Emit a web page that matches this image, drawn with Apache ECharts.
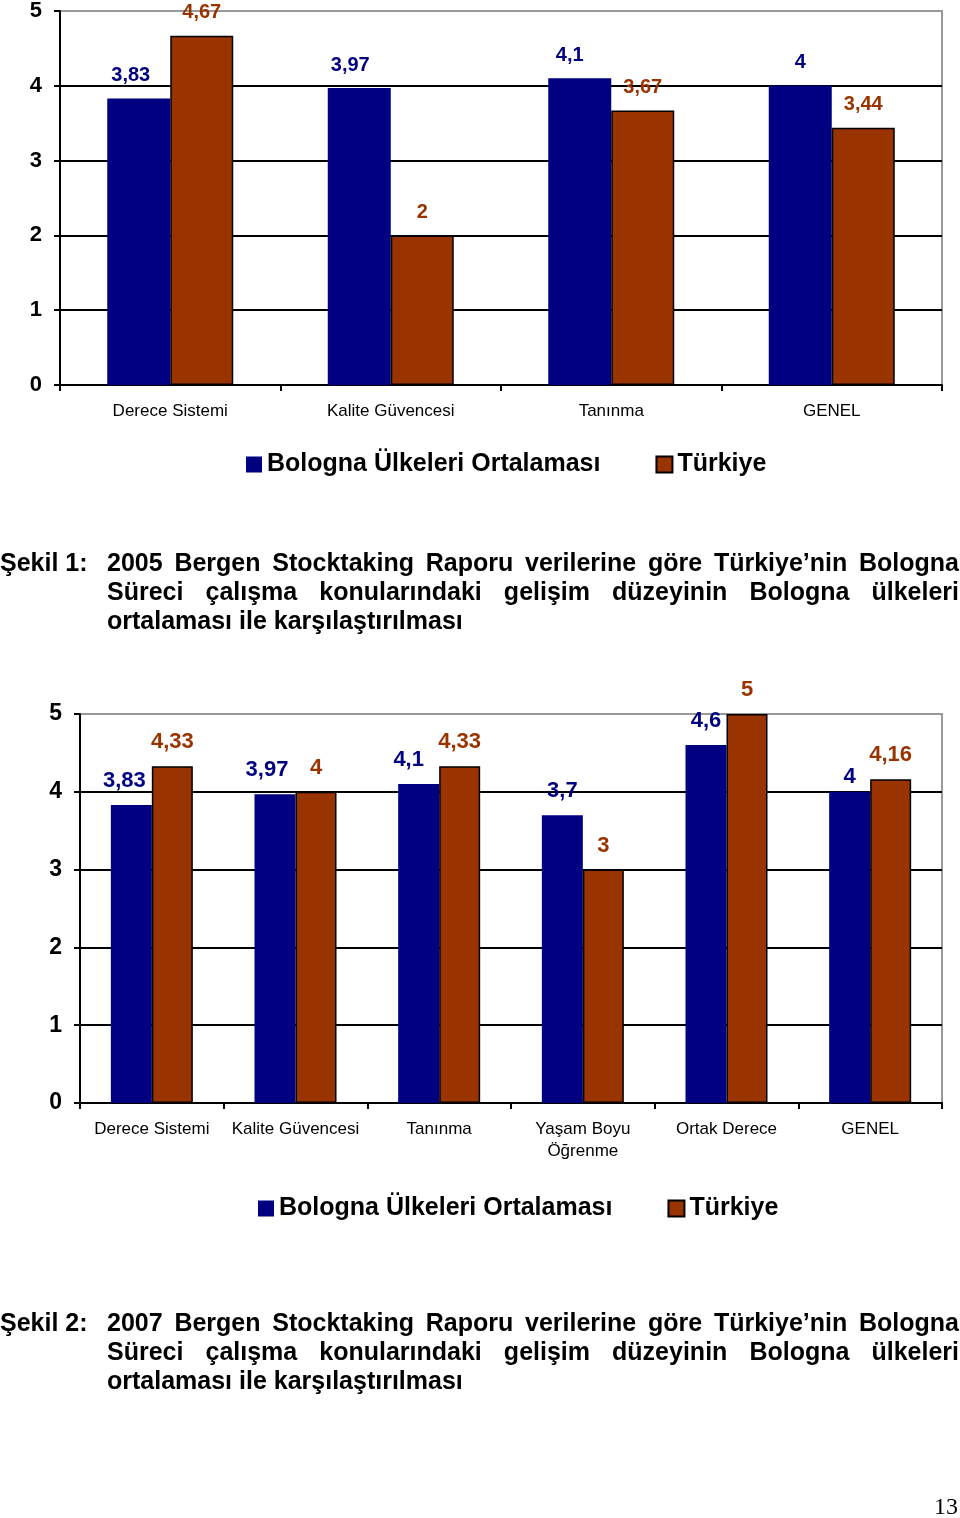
<!DOCTYPE html>
<html>
<head>
<meta charset="utf-8">
<script src="https://cdn.jsdelivr.net/npm/echarts@6/dist/echarts.min.js"></script>
<style>
html,body{margin:0;padding:0;background:#fff;}
#c{width:960px;height:1518px;}
</style>
</head>
<body>
<div id="c"></div>
<script>
// ---- data ----
const categories1 = ['Derece Sistemi', 'Kalite Güvencesi', 'Tanınma', 'GENEL'];
const bologna1 = [3.83, 3.97, 4.1, 4];
const turkiye1 = [4.67, 2, 3.67, 3.44];

const categories2 = ['Derece Sistemi', 'Kalite Güvencesi', 'Tanınma', 'Yaşam Boyu\nÖğrenme', 'Ortak Derece', 'GENEL'];
const bologna2 = [3.83, 3.97, 4.1, 3.7, 4.6, 4];
const turkiye2 = [4.33, 4, 4.33, 3, 5, 4.16];

const seriesNames = ['Bologna Ülkeleri Ortalaması', 'Türkiye'];
const yMin = 0, yMax = 5, yStep = 1;

const caption1 = ['Şekil 1:', '2005 Bergen Stocktaking Raporu verilerine göre Türkiye’nin Bologna',
  'Süreci çalışma konularındaki gelişim düzeyinin Bologna ülkeleri',
  'ortalaması ile karşılaştırılması'];
const caption2 = ['Şekil 2:', '2007 Bergen Stocktaking Raporu verilerine göre Türkiye’nin Bologna',
  'Süreci çalışma konularındaki gelişim düzeyinin Bologna ülkeleri',
  'ortalaması ile karşılaştırılması'];
const pageNumber = '13';

// ---- style ----
const BLUE = '#000080', BROWN = '#993300';
const FONT = 'Liberation Sans, Arial, sans-serif';
// label nudges (style only)
const nudge1 = {0: [-8, 0], 1: [-9, 0], 2: [-10, 0]};
const nudge2 = {0: [-7, 0], 1: [-8, 0], 2: [-10, 0], 5: [0, 9]};

const fmt = p => String(p.value).replace('.', ',');

function mkData(vals, nudge) {
  return vals.map((v, i) => nudge && nudge[i] ? {value: v, label: {offset: nudge[i]}} : v);
}

function barSeries(name, vals, color, gi, bw, border, nudge, fs) {
  return {
    name: name, type: 'bar', xAxisIndex: gi, yAxisIndex: gi,
    data: mkData(vals, nudge),
    barWidth: bw, barGap: '0%',
    itemStyle: border ? {color: color, borderColor: '#000', borderWidth: 1.5} : {color: color},
    label: {show: true, position: 'top', distance: 13, formatter: fmt,
      color: color, fontFamily: FONT, fontWeight: 'bold', fontSize: fs},
    emphasis: {disabled: true}, animation: false
  };
}

function xAx(cats, gi, margin) {
  return {
    type: 'category', data: cats, gridIndex: gi,
    axisLine: {lineStyle: {color: '#000', width: 2}},
    axisTick: {show: true, length: 6, alignWithLabel: false, interval: 0, lineStyle: {color: '#000', width: 2}},
    axisLabel: {interval: 0, color: '#000', fontFamily: FONT, fontSize: 17, margin: margin, lineHeight: 22}
  };
}
function yAx(gi, fs) {
  return {
    type: 'value', gridIndex: gi, min: yMin, max: yMax, interval: yStep,
    axisLine: {show: true, lineStyle: {color: '#000', width: 2}},
    axisTick: {show: true, length: 6, lineStyle: {color: '#000', width: 2}},
    axisLabel: {color: '#000', fontFamily: FONT, fontWeight: 'bold', fontSize: fs, margin: 18},
    splitLine: {show: true, showMaxLine: false, lineStyle: {color: '#000', width: 2}}
  };
}

// caption graphics with justified lines
const ctx = document.createElement('canvas').getContext('2d');
const CAP_FS = 25;
const CAP_FONT = 'bold ' + CAP_FS + 'px ' + FONT;
ctx.font = CAP_FONT;
function captionGraphics(cap, y0) {
  const out = [];
  const lh = 29, x0 = 107, x1 = 959;
  out.push({type: 'text', x: 0, y: y0, style: {text: cap[0], font: CAP_FONT, fill: '#000', textVerticalAlign: 'middle'}});
  for (let li = 1; li < cap.length; li++) {
    const y = y0 + (li - 1) * lh;
    const words = cap[li].split(' ');
    const justify = li < cap.length - 1;
    if (!justify) {
      out.push({type: 'text', x: x0, y: y, style: {text: cap[li], font: CAP_FONT, fill: '#000', textVerticalAlign: 'middle'}});
      continue;
    }
    const widths = words.map(w => ctx.measureText(w).width);
    const sum = widths.reduce((a, b) => a + b, 0);
    const gap = (x1 - x0 - sum) / (words.length - 1);
    let x = x0;
    words.forEach((w, i) => {
      out.push({type: 'text', x: x, y: y, style: {text: w, font: CAP_FONT, fill: '#000', textVerticalAlign: 'middle'}});
      x += widths[i] + gap;
    });
  }
  return out;
}

const graphics = [].concat(
  captionGraphics(caption1, 564),
  captionGraphics(caption2, 1324),
  [{type: 'text', x: 958, y: 1508, style: {text: pageNumber, font: '24px Liberation Serif, Times New Roman, serif', fill: '#000', textAlign: 'right', textVerticalAlign: 'middle'}}]
);

const legendText = {color: '#000', fontFamily: FONT, fontWeight: 'bold', fontSize: 25};

const option = {
  backgroundColor: '#fff',
  animation: false,
  grid: [
    {left: 60, top: 10, right: 18, height: 375, show: true, borderColor: '#999', borderWidth: 2, backgroundColor: 'transparent'},
    {left: 80, top: 714, right: 18, height: 389, show: true, borderColor: '#999', borderWidth: 2, backgroundColor: 'transparent'}
  ],
  legend: [
    {left: 246, top: 452, padding: 0, itemWidth: 16, itemHeight: 16, itemGap: 55, textStyle: legendText, selectedMode: false, data: seriesNames, icon: 'rect'},
    {left: 258, top: 1196, padding: 0, itemWidth: 16, itemHeight: 16, itemGap: 55, textStyle: legendText, selectedMode: false, data: seriesNames, icon: 'rect'}
  ],
  xAxis: [xAx(categories1, 0, 15), xAx(categories2, 1, 15)],
  yAxis: [yAx(0, 22), yAx(1, 23)],
  series: [
    barSeries(seriesNames[0], bologna1, BLUE, 0, 63, false, nudge1, 20),
    barSeries(seriesNames[1], turkiye1, BROWN, 0, 63, true, null, 20),
    barSeries(seriesNames[0], bologna2, BLUE, 1, 41, false, nudge2, 22),
    barSeries(seriesNames[1], turkiye2, BROWN, 1, 41, true, null, 22)
  ],
  graphic: graphics
};

const chart = echarts.init(document.getElementById('c'), null, {renderer: 'canvas'});
chart.setOption(option);
</script>
</body>
</html>
